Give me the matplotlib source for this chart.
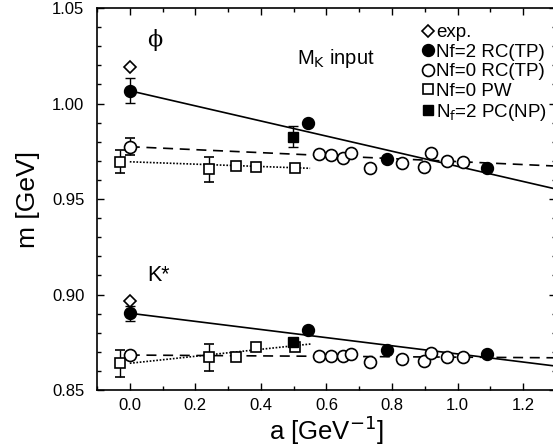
import numpy as np
import matplotlib.pyplot as plt
from matplotlib.ticker import MultipleLocator

plt.rcParams['font.family'] = ['Liberation Sans', 'DejaVu Sans']

# experimental values
exp_a = [0.0, 0.0]
exp_m = [1.0193, 0.8966]

# Nf=2 RC(TP)
nf2_a = [0.0, 0.545, 0.784, 1.089]
phi_nf2 = [1.0067, 0.9896, 0.9708, 0.9660]
phi_nf2_err = [0.0066, 0, 0, 0]
ks_nf2 = [0.8902, 0.8814, 0.8709, 0.8687]
ks_nf2_err = [0.0040, 0, 0, 0]

# Nf=0 RC(TP)
nf0_a = [0.0, 0.576, 0.613, 0.650, 0.675, 0.733, 0.830, 0.896, 0.919, 0.967, 1.016]
phi_nf0 = [0.9774, 0.9736, 0.9732, 0.9713, 0.9742, 0.9661, 0.9687, 0.9666, 0.9740, 0.9701, 0.9693]
phi_nf0_err = [0.0044, 0, 0, 0, 0, 0, 0, 0, 0, 0, 0]
ks_nf0 = [0.8683, 0.8680, 0.8680, 0.8676, 0.8687, 0.8648, 0.8661, 0.8653, 0.8695, 0.8674, 0.8674]
ks_nf0_err = [0.0015, 0, 0, 0, 0, 0, 0, 0, 0, 0, 0]

# Nf=0 PW
pw_a = [-0.029, 0.243, 0.323, 0.386, 0.505]
phi_pw = [0.9695, 0.9655, 0.9671, 0.9669, 0.9661]
phi_pw_err = [0.0060, 0.0065, 0.0010, 0.0008, 0.0008]
ks_pw = [0.8640, 0.8671, 0.8675, 0.8724, 0.8724]
ks_pw_err = [0.0070, 0.0070, 0.0015, 0.0010, 0.0010]

# Nf=2 PC(NP)
pc_a = [0.4975, 0.4975]
pc_m = [0.9826, 0.8753]
pc_err = [0.0056, 0.0015]

# linear continuum extrapolations: (intercept, slope, a_min, a_max)
fit_nf2 = [(1.0067, -0.0396, 0.0, 1.3), (0.8902, -0.0213, 0.0, 1.3)]
fit_nf0 = [(0.9774, -0.0078, 0.0, 1.3), (0.8683, -0.0011, 0.0, 1.3)]
fit_pw = [(0.9695, -0.0062, 0.0, 0.55), (0.8640, 0.0183, 0.0, 0.555)]

fig = plt.figure(figsize=(5.53, 4.47), dpi=100)
ax = fig.add_axes([0.1754, 0.1275, 0.830, 0.8545])

ms_c = 8.6
ms_s = 7.4
eb = dict(ecolor='black', elinewidth=1, capsize=3.5, capthick=1, linestyle='none')

for b, s, lo, hi in fit_nf2:
    x = np.array([lo, hi])
    ax.plot(x, b + s * x, '-', color='black', lw=1.2, zorder=1)
for b, s, lo, hi in fit_nf0:
    x = np.array([lo, hi])
    ax.plot(x, b + s * x, '--', color='black', lw=1.2, dashes=(6, 4), zorder=1)
for b, s, lo, hi in fit_pw:
    x = np.array([lo, hi])
    ax.plot(x, b + s * x, ':', color='black', lw=1.2, dashes=(1, 1), zorder=1)

ax.errorbar(pw_a, phi_pw, yerr=phi_pw_err, marker='s', ms=ms_s, mfc='white', mec='black',
            mew=1.2, zorder=3, **eb)
ax.errorbar(pw_a, ks_pw, yerr=ks_pw_err, marker='s', ms=ms_s, mfc='white', mec='black',
            mew=1.2, zorder=3, **eb)
ax.errorbar(nf0_a, phi_nf0, yerr=phi_nf0_err, marker='o', ms=ms_c, mfc='white', mec='black',
            mew=1.2, zorder=3, **eb)
ax.errorbar(nf0_a, ks_nf0, yerr=ks_nf0_err, marker='o', ms=ms_c, mfc='white', mec='black',
            mew=1.2, zorder=3, **eb)
ax.errorbar(nf2_a, phi_nf2, yerr=phi_nf2_err, marker='o', ms=ms_c, mfc='black', mec='black',
            zorder=4, **eb)
ax.errorbar(nf2_a, ks_nf2, yerr=ks_nf2_err, marker='o', ms=ms_c, mfc='black', mec='black',
            zorder=4, **eb)
ax.errorbar(pc_a, pc_m, yerr=pc_err, marker='s', ms=ms_s, mfc='black', mec='black',
            zorder=4, **eb)
ax.plot(exp_a, exp_m, 'D', ms=6.2, mfc='white', mec='black', mew=1.2, linestyle='none', zorder=5)

# legend
h_exp = ax.plot([], [], 'D', ms=6.2, mfc='white', mec='black', mew=1.2, ls='none')[0]
h_nf2 = ax.plot([], [], 'o', ms=ms_c, mfc='black', mec='black', ls='none')[0]
h_nf0 = ax.plot([], [], 'o', ms=ms_c, mfc='white', mec='black', mew=1.2, ls='none')[0]
h_pw = ax.plot([], [], 's', ms=ms_s, mfc='white', mec='black', mew=1.2, ls='none')[0]
h_pc = ax.plot([], [], 's', ms=ms_s, mfc='black', mec='black', ls='none')[0]
ax.legend([h_exp, h_nf2, h_nf0, h_pw, h_pc],
          ['exp.', 'Nf=2 RC(TP)', 'Nf=0 RC(TP)', 'Nf=0 PW', r'N$_{\rm f}$=2 PC(NP)'],
          loc='upper left', bbox_to_anchor=(0.688, 0.982), frameon=False, fontsize=13.5,
          handlelength=0.6, handletextpad=0.15, labelspacing=0.12, borderpad=0.2,
          borderaxespad=0.3)

ax.text(0.052, 1.0335, 'ϕ', fontsize=16, family=['DejaVu Serif', 'DejaVu Sans'],
        va='center', ha='left')
ax.text(0.51, 1.0238, r'M$_{\rm K}$ input', fontsize=14.5, va='center', ha='left')
ax.text(0.052, 0.910, 'K*', fontsize=15.5, va='center', ha='left')

ax.set_xlim(-0.1, 1.3)
ax.set_ylim(0.85, 1.05)
ax.xaxis.set_major_locator(MultipleLocator(0.2))
ax.xaxis.set_minor_locator(MultipleLocator(0.1))
ax.yaxis.set_major_locator(MultipleLocator(0.05))
ax.yaxis.set_minor_locator(MultipleLocator(0.01))
ax.xaxis.set_major_formatter(plt.FormatStrFormatter('%.1f'))
ax.yaxis.set_major_formatter(plt.FormatStrFormatter('%.2f'))
ax.tick_params(which='both', direction='in', top=True, right=True, labelsize=12, width=1)
ax.tick_params(which='major', length=5)
ax.tick_params(which='minor', length=3)
ax.tick_params(axis='x', pad=6)
ax.tick_params(axis='y', pad=9)
for sp in ax.spines.values():
    sp.set_linewidth(1.2)

ax.set_xlabel(r'a [GeV$^{-1}$]', fontsize=18.5, labelpad=0)
ax.set_ylabel('m [GeV]', fontsize=19, labelpad=9)

fig.savefig('out.png', dpi=100)
